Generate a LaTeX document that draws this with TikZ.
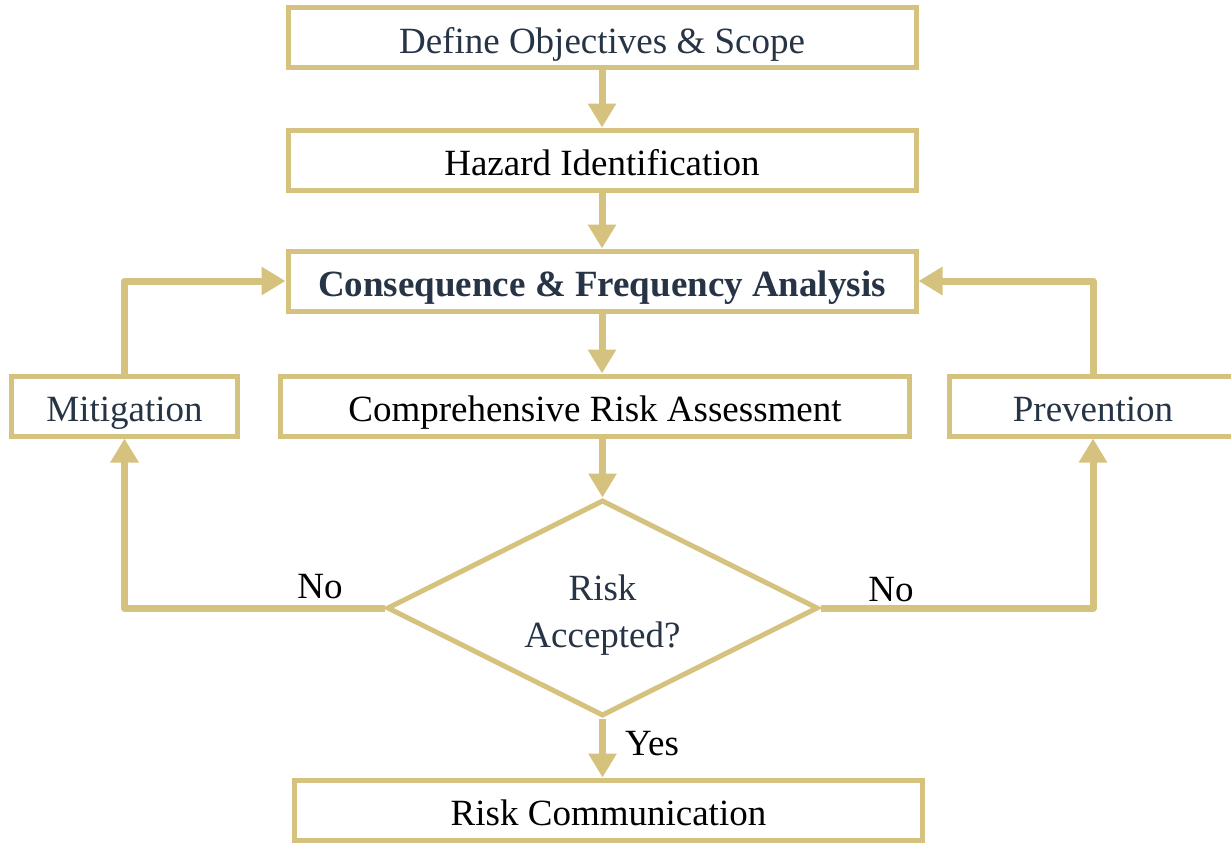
\documentclass[tikz,border=0pt]{standalone}
\usepackage{fontspec}
\setmainfont{Liberation Serif}
\usetikzlibrary{arrows.meta,shapes.geometric}
\definecolor{gold}{HTML}{D5C27E}
\definecolor{navy}{HTML}{263445}
\tikzset{
  stepbox/.style={draw=gold, line width=5pt, fill=white, minimum height=60pt,
    inner sep=0pt, text height=31pt, text depth=0pt,
    font=\fontsize{37}{44}\selectfont, text=#1},
  stepbox/.default=black,
  flow/.style={draw=gold, line width=7pt, line join=round,
    -{Triangle[width=27pt,length=24pt]}},
  lbl/.style={font=\fontsize{37}{44}\selectfont, text=black, inner sep=0pt},
}
\begin{document}
\begin{tikzpicture}[x=1pt,y=-1pt]
  \useasboundingbox (0,0) rectangle (1231,843);
  \clip (0,0) rectangle (1231,843);

  % process steps
  \node[stepbox=navy, minimum width=628pt] (def) at (602,38) {Define Objectives \& Scope};
  \node[stepbox, minimum width=628pt] (haz) at (602,160) {Hazard Identification};
  \node[stepbox=navy, minimum width=628pt, font=\fontsize{37}{44}\selectfont\bfseries] (cfa) at (602,281) {Consequence \& Frequency Analysis};
  \node[stepbox, minimum width=629pt] (cra) at (595,406) {Comprehensive Risk Assessment};
  \node[stepbox=navy, minimum width=226pt] (mit) at (124.5,406) {Mitigation};
  \node[stepbox=navy, minimum width=287pt] (prev) at (1093,406) {Prevention};

  % decision
  \node[diamond, draw=gold, line width=5pt, fill=white, aspect=2,
        minimum width=431pt, minimum height=216pt, inner sep=0pt] (dec) at (602.5,608) {};
  \node[align=center, text=navy, inner sep=0pt, font=\fontsize{37}{46}\selectfont]
        (dectext) at ([yshift=-7pt]dec.center) {Risk\\[1pt]Accepted?};

  \node[stepbox, minimum width=628pt] (com) at (608.5,810) {Risk Communication};

  % main chain
  \draw[flow] (def.south) -- (def.south |- haz.north);
  \draw[flow] (haz.south) -- (haz.south |- cfa.north);
  \draw[flow] (cfa.south) -- (cfa.south |- cra.north);
  \draw[flow] (dec.north |- cra.south) -- (dec.north);
  \draw[flow] (dec.south) -- (dec.south |- com.north);

  % feedback loops
  \draw[flow] (dec.west) -| (mit.south);
  \draw[flow] (dec.east) -| (prev.south);
  \draw[flow] (mit.north) |- (cfa.west);
  \draw[flow] (prev.north) |- (cfa.east);

  % branch labels
  \node[lbl] (noleft) at (320,587) {No};
  \node[lbl] (noright) at (891,590) {No};
  \node[lbl] (yes) at (652,744) {Yes};
\end{tikzpicture}
\end{document}
